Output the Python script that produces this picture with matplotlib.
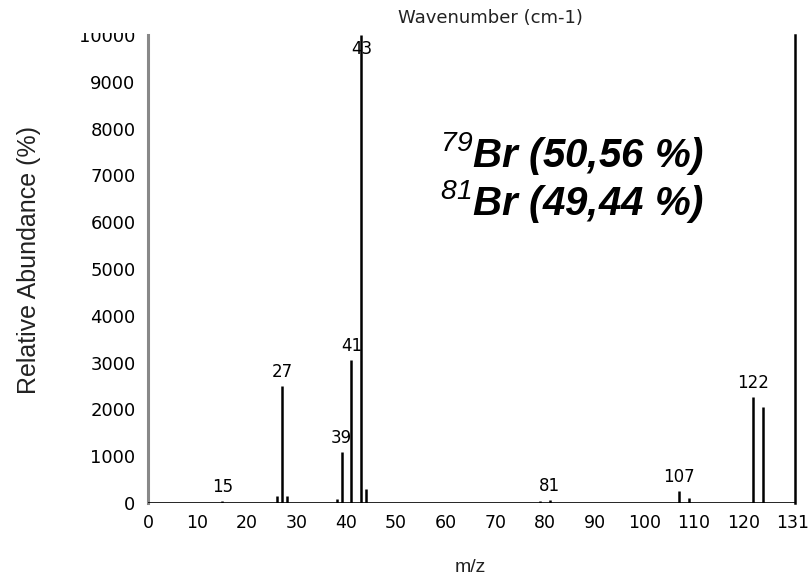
import matplotlib
matplotlib.use("Agg")
import matplotlib.pyplot as plt
from matplotlib.patches import Rectangle

# ---- data ----
mz = [15, 26, 27, 28, 38, 39, 41, 43, 44, 79, 81, 107, 109, 122, 124]
abundance = [40, 150, 2500, 150, 80, 1100, 3050, 10000, 300, 40, 60, 250, 100, 2270, 2060]
label_mz = [15, 27, 39, 41, 43, 81, 107, 122]
xtick_vals = [0, 10, 20, 30, 40, 50, 60, 70, 80, 90, 100, 110, 120, 130]
xtick_labels = ['0', '10', '20', '30', '40', '50', '60', '70', '80', '90', '100', '110', '120', '131']
ytick_vals = [0, 1000, 2000, 3000, 4000, 5000, 6000, 7000, 8000, 9000, 10000]
ytick_labels = ['0', '1000', '2000', '3000', '4000', '5000', '6000', '7000', '8000', '9000', '10000']
iso_lines = [("79", "Br (50,56 %)"), ("81", "Br (49,44 %)")]

plt.rcParams['mathtext.fontset'] = 'custom'
plt.rcParams['mathtext.rm'] = 'Liberation Sans:italic'
plt.rcParams['mathtext.it'] = 'Liberation Sans:italic'

W, H = 811, 582
fig = plt.figure(figsize=(W / 100, H / 100), dpi=100)
left, right, bottom, top = 148, 795, 503, 35
ax = fig.add_axes([left / W, (H - bottom) / H, (right - left) / W, (bottom - top) / H])
ax.set_xlim(0, 130.4)
ax.set_ylim(0, 9960)

ax.vlines(mz, 0, abundance, colors='black', linewidth=1.8)
ax.axhline(0, color='black', linewidth=1.2, zorder=3)

for m, a in zip(mz, abundance):
    if m in label_mz:
        if a >= 9500:
            ax.text(m, 9700, str(m), ha='center', va='center', fontsize=12,
                    fontfamily='DejaVu Sans', color='black')
        else:
            ax.annotate(str(m), (m, a), xytext=(0, 10), textcoords='offset points',
                        ha='center', va='center', fontsize=12,
                        fontfamily='DejaVu Sans', color='black')

ax.set_xticks(xtick_vals)
ax.set_xticklabels(xtick_labels)
ax.set_yticks(ytick_vals)
ax.set_yticklabels(ytick_labels)
ax.tick_params(axis='both', length=0, labelsize=12.5, pad=8)
ax.tick_params(axis='y', labelsize=13, pad=9)
for lab in ax.get_xticklabels() + ax.get_yticklabels():
    lab.set_fontfamily('DejaVu Sans')

ax.spines['top'].set_visible(False)
ax.spines['bottom'].set_visible(False)
ax.spines['left'].set_color('#888888')
ax.spines['left'].set_linewidth(2.2)
ax.spines['right'].set_color('black')
ax.spines['right'].set_linewidth(1.8)

ax.set_ylabel('Relative Abundance (%)', fontsize=18, fontfamily='Liberation Sans',
              color='#222222')
ax.yaxis.set_label_coords(-(left - 29) / (right - left), (503 - 260) / (503 - 35))
ax.yaxis.label.set_horizontalalignment('center')
ax.yaxis.label.set_verticalalignment('center')
ax.set_xlabel('m/z', fontsize=14, fontfamily='Liberation Sans', color='#222222')
ax.xaxis.set_label_coords((470 - left) / (right - left), -(568 - 503) / (503 - 35))
ax.xaxis.label.set_verticalalignment('center')

# isotope annotation
def ypos(py):
    return (503 - py) / (503 - 35)

for i, (sup, rest) in enumerate(iso_lines):
    ax.text((572 - left) / (right - left), ypos(167 + 48 * i), r'$^{' + sup + r'}$' + rest,
            transform=ax.transAxes, ha='center', va='baseline', fontsize=29,
            fontfamily='Liberation Sans', fontweight='bold', fontstyle='italic', color='black')

# white band over the top with the title
fig.add_artist(Rectangle((0, (H - 33) / H), 1, 33 / H, transform=fig.transFigure,
                         facecolor='white', edgecolor='none', zorder=10))
fig.text(490 / W, (H - 18) / H, 'Wavenumber (cm-1)', ha='center', va='center',
         fontsize=13, fontfamily='DejaVu Sans', color='#222222', zorder=11)

fig.savefig('out.png', dpi=100)
